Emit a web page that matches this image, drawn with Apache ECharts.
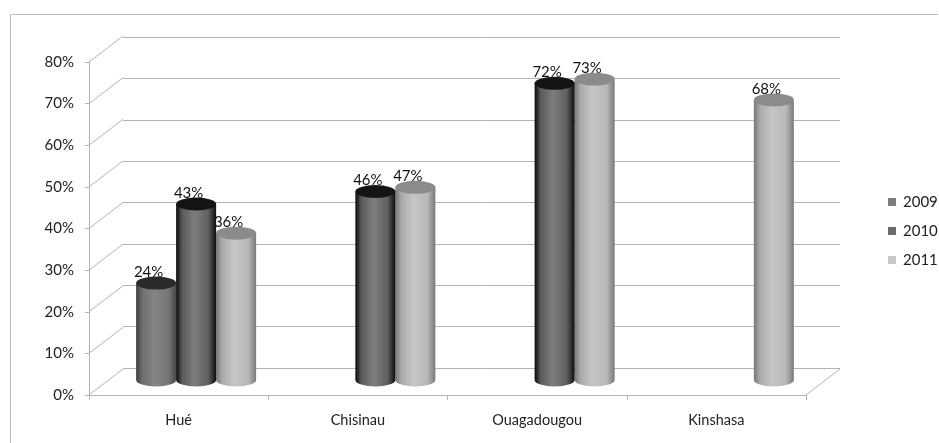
<!DOCTYPE html>
<html>
<head>
<meta charset="utf-8">
<style>html,body{margin:0;padding:0;background:#fff}#chart{width:939px;height:443px}</style>
<script src="https://cdn.jsdelivr.net/npm/echarts@6/dist/echarts.min.js"></script>
</head>
<body>
<div id="chart"></div>
<script>
// Share of respondents per city and survey year (null = no survey that year)
const cities = ['Hué', 'Chisinau', 'Ouagadougou', 'Kinshasa'];
const years = ['2009', '2010', '2011'];
const values2009 = [24, null, null, null];
const values2010 = [43, 46, 72, null];
const values2011 = [36, 47, 73, 68];
const axisTicks = [0, 10, 20, 30, 40, 50, 60, 70, 80];

// Pseudo-3D geometry: depth of the box and where the columns sit inside it
const DEPTH_X = 34, DEPTH_Y = -26;
const COL_SHIFT_X = 17.5, COL_SHIFT_Y = -12;
const COL_RX = 20, COL_RY = 6.5, COL_STEP = 40;
const FONT = 'Lato, "Open Sans", sans-serif';
const GRID_COLOR = '#b4b4b4';

const cylinderStyles = {
  '2009': { stops: ['#3c3c3c', '#6e6e6e', '#858585', '#777777', '#484848'], top: '#2b2b2b', legend: '#7d7d7d' },
  '2010': { stops: ['#080808', '#5a5a5a', '#7d7d7d', '#606060', '#0c0c0c'], top: '#141414', legend: '#6c6c6c' },
  '2011': { stops: ['#777777', '#aaaaaa', '#c6c6c6', '#b8b8b8', '#7a7a7a'], top: '#8b8b8b', legend: '#c8c8c8' }
};

function cylinderSeries(name, values, slot, z) {
  const style = cylinderStyles[name];
  const rows = values.map((v, i) => [i, v]).filter(r => r[1] !== null);
  return {
    name,
    type: 'custom',
    coordinateSystem: 'cartesian2d',
    xAxisIndex: 0,
    yAxisIndex: 0,
    z,
    clip: false,
    silent: true,
    itemStyle: { color: style.legend },
    encode: { x: 0, y: 1 },
    data: rows,
    renderItem(params, api) {
      const value = api.value(1);
      const top = api.coord([api.value(0), value]);
      const base = api.coord([api.value(0), 0]);
      const cx = top[0] + COL_SHIFT_X + slot * COL_STEP;
      const yTop = top[1] + COL_SHIFT_Y;
      const yBase = base[1] + COL_SHIFT_Y - 3;
      const x0 = cx - COL_RX, x1 = cx + COL_RX;
      const s = style.stops;
      return {
        type: 'group',
        children: [
          {
            type: 'path',
            shape: {
              pathData: `M${x0} ${yTop}L${x0} ${yBase}A${COL_RX} ${COL_RY} 0 0 0 ${x1} ${yBase}L${x1} ${yTop}Z`,
              layout: 'cover',
              x: x0, y: yTop, width: x1 - x0, height: yBase + COL_RY - yTop
            },
            style: {
              fill: {
                type: 'linear', x: 0, y: 0, x2: 1, y2: 0,
                colorStops: [
                  { offset: 0, color: s[0] }, { offset: 0.15, color: s[1] },
                  { offset: 0.45, color: s[2] }, { offset: 0.8, color: s[3] },
                  { offset: 1, color: s[4] }
                ]
              }
            }
          },
          {
            type: 'path',
            shape: {
              pathData: `M${x0} ${yTop}A${COL_RX} ${COL_RY} 0 0 1 ${x1} ${yTop}A${COL_RX} ${COL_RY} 0 0 1 ${x0} ${yTop}Z`,
              layout: 'cover',
              x: x0, y: yTop - COL_RY, width: x1 - x0, height: COL_RY * 2
            },
            style: { fill: style.top }
          },
          {
            type: 'text',
            style: {
              x: cx - 7.5, y: yTop - 11,
              text: value + '%',
              fill: '#111',
              font: '15px ' + FONT,
              align: 'center',
              verticalAlign: 'middle'
            }
          }
        ]
      };
    }
  };
}

// Slanted lines linking the front axis to the back wall, plus the right floor edge
const depthEdges = {
  type: 'custom',
  coordinateSystem: 'cartesian2d',
  xAxisIndex: 0,
  yAxisIndex: 0,
  z: 1,
  clip: false,
  silent: true,
  encode: { y: 0 },
  data: axisTicks.map(t => [t]),
  renderItem(params, api) {
    const cs = params.coordSys;
    const v = api.value(0);
    const y = api.coord([0, v])[1];
    const lineStyle = { stroke: GRID_COLOR, lineWidth: 1 };
    const children = [{
      type: 'line',
      shape: { x1: cs.x, y1: y, x2: cs.x + DEPTH_X, y2: y + DEPTH_Y },
      style: lineStyle
    }];
    if (v === 0) {
      children.push({
        type: 'line',
        shape: { x1: cs.x + cs.width, y1: y, x2: cs.x + cs.width + DEPTH_X, y2: y + DEPTH_Y },
        style: lineStyle
      });
    }
    return { type: 'group', children };
  }
};

const chart = echarts.init(document.getElementById('chart'), null, { renderer: 'canvas' });
chart.setOption({
  animation: false,
  backgroundColor: '#fff',
  textStyle: { fontFamily: FONT },
  graphic: [{
    type: 'polyline',
    silent: true,
    z: 0,
    shape: { points: [[10.5, 460], [10.5, 14.5], [938, 14.5]] },
    style: { stroke: '#bcbcbc', lineWidth: 1, fill: null }
  }],
  legend: {
    orient: 'vertical',
    left: 883,
    top: 189,
    itemWidth: 8,
    itemHeight: 8,
    itemGap: 13,
    icon: 'rect',
    data: years,
    textStyle: { fontSize: 15, color: '#222', fontFamily: FONT, padding: [0, 0, 0, 2], height: 16, lineHeight: 16 }
  },
  grid: [
    { left: 89, top: 62, width: 717, height: 333 },
    { left: 123, top: 37, width: 717, height: 331 }
  ],
  xAxis: [
    {
      type: 'category', gridIndex: 0, data: cities,
      axisLine: { lineStyle: { color: GRID_COLOR } },
      axisTick: { show: true, length: 5, lineStyle: { color: GRID_COLOR } },
      axisLabel: { fontSize: 14.5, color: '#222', margin: 18, fontFamily: FONT },
      splitLine: { show: false }
    },
    {
      type: 'category', gridIndex: 1, data: cities,
      axisLine: { show: false }, axisTick: { show: false },
      axisLabel: { show: false }, splitLine: { show: false }
    }
  ],
  yAxis: [
    {
      type: 'value', gridIndex: 0, min: 0, max: 80, interval: 10,
      axisLine: { show: true, lineStyle: { color: GRID_COLOR } },
      axisTick: { show: true, length: 4, lineStyle: { color: GRID_COLOR } },
      axisLabel: { fontSize: 15, color: '#222', margin: 15, formatter: '{value}%', fontFamily: FONT, padding: [4, 0, 0, 0] },
      splitLine: { show: false }
    },
    {
      type: 'value', gridIndex: 1, min: 0, max: 80, interval: 10,
      axisLine: { show: false }, axisTick: { show: false }, axisLabel: { show: false },
      splitLine: { show: true, lineStyle: { color: GRID_COLOR, width: 1 } }
    }
  ],
  series: [
    depthEdges,
    cylinderSeries('2009', values2009, -1, 3),
    cylinderSeries('2011', values2011, 1, 3),
    cylinderSeries('2010', values2010, 0, 4)
  ]
});
</script>
</body>
</html>
